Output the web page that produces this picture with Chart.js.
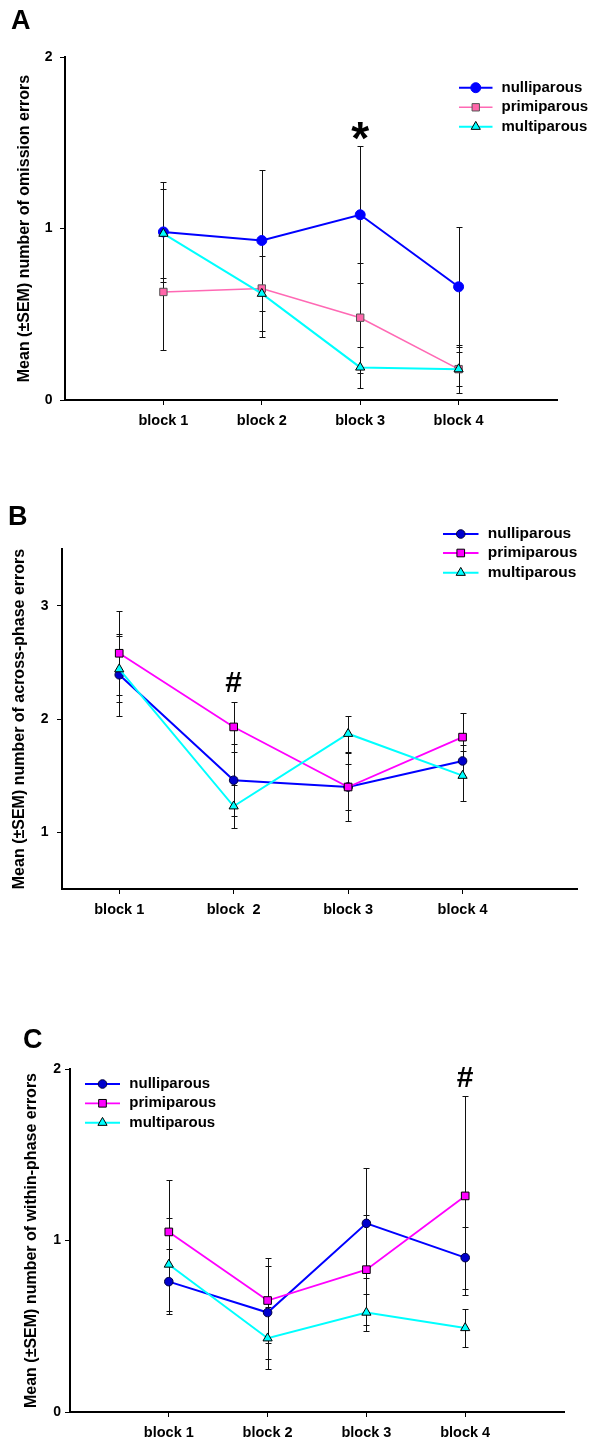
<!DOCTYPE html>
<html>
<head>
<meta charset="utf-8">
<script src="https://cdn.jsdelivr.net/npm/chart.js@4.4.1/dist/chart.umd.min.js"></script>
<style>
    body { margin: 0; background: #fff; width: 589px; height: 1445px; position: relative; overflow: hidden; }
    canvas { position: absolute; left: 0; }
</style>
</head>
<body>
<canvas id="chartA" width="589" height="450" style="top:0"></canvas>
<canvas id="chartB" width="589" height="440" style="top:490px"></canvas>
<canvas id="chartC" width="589" height="485" style="top:960px"></canvas>
<script>
// ─── Data ───
const blocks = ['block 1', 'block 2', 'block 3', 'block 4'];
const blocksB = ['block 1', 'block  2', 'block 3', 'block 4'];
const groups = ['nulliparous', 'primiparous', 'multiparous'];

// A: omission errors
const omNulli = [0.98, 0.93, 1.08, 0.66];
const omNulliSem = [0.29, 0.41, 0.40, 0.35];
const omPrimi = [0.63, 0.65, 0.48, 0.18];
const omPrimiSem = [0.34, 0.28, 0.32, 0.10];
const omMulti = [0.97, 0.62, 0.19, 0.18];
const omMultiSem = [0.26, 0.22, 0.12, 0.14];

// B: across-phase errors
const acNulli = [2.39, 1.46, 1.40, 1.63];
const acNulliSem = [0.36, 0.32, 0.20, 0.14];
const acPrimi = [2.58, 1.93, 1.40, 1.84];
const acPrimiSem = [0.37, 0.22, 0.30, 0.21];
const acMulti = [2.44, 1.23, 1.87, 1.50];
const acMultiSem = [0.29, 0.19, 0.16, 0.22];

// C: within-phase errors
const wiNulli = [0.76, 0.58, 1.10, 0.90];
const wiNulliSem = [0.19, 0.27, 0.32, 0.18];
const wiPrimi = [1.05, 0.65, 0.83, 1.26];
const wiPrimiSem = [0.30, 0.25, 0.32, 0.58];
const wiMulti = [0.86, 0.43, 0.58, 0.49];
const wiMultiSem = [0.27, 0.18, 0.11, 0.11];

const yTicksA = [0, 1, 2];
const yTicksB = [1, 2, 3];
const yTicksC = [0, 1, 2];

const FONT = "Arial, 'Liberation Sans', Helvetica, sans-serif";
Chart.defaults.font.family = FONT;
Chart.defaults.color = '#000';

function drawMarker(ctx, ds, x, y) {
    ctx.save();
    ctx.fillStyle = ds.pointBackgroundColor;
    ctx.strokeStyle = ds.pointBorderColor;
    ctx.lineWidth = ds.pointBorderWidth;
    Chart.helpers.drawPoint(ctx, {
        pointStyle: ds.pointStyle, radius: ds.pointRadius, rotation: 0, borderWidth: ds.pointBorderWidth
    }, x, y);
    ctx.restore();
}

// error bars, legend, panel letter and significance mark
const panelDecor = {
    id: 'panelDecor',
    beforeDatasetsDraw(chart) {
        const { ctx, scales: { x, y } } = chart;
        ctx.save();
        ctx.strokeStyle = '#111';
        ctx.lineWidth = 1;
        chart.data.datasets.forEach(ds => {
            ds.data.forEach((p, i) => {
                const s = ds.sem[i];
                const px = Math.round(x.getPixelForValue(p.x)) + 0.5;
                const yt = Math.round(y.getPixelForValue(p.y + s)) + 0.5;
                const yb = Math.round(y.getPixelForValue(p.y - s)) + 0.5;
                ctx.beginPath();
                ctx.moveTo(px, yt); ctx.lineTo(px, yb);
                ctx.moveTo(px - 3, yt); ctx.lineTo(px + 3, yt);
                ctx.moveTo(px - 3, yb); ctx.lineTo(px + 3, yb);
                ctx.stroke();
            });
        });
        ctx.restore();
    },
    afterDraw(chart, args, opts) {
        const { ctx, scales: { x, y } } = chart;
        ctx.save();
        ctx.fillStyle = '#000';
        ctx.textAlign = 'left';
        ctx.textBaseline = 'alphabetic';
        ctx.font = `bold 27px ${FONT}`;
        ctx.fillText(opts.letter, opts.letterX, opts.letterY);

        ctx.font = `bold ${opts.markSize}px ${FONT}`;
        const m = ctx.measureText(opts.mark);
        const mx = x.getPixelForValue(opts.markAt[0]);
        const my = y.getPixelForValue(opts.markAt[1]);
        ctx.fillText(opts.mark,
            mx - (m.actualBoundingBoxRight - m.actualBoundingBoxLeft) / 2,
            my + (m.actualBoundingBoxAscent - m.actualBoundingBoxDescent) / 2);

        const lg = opts.legend;
        ctx.font = `bold ${lg.size}px ${FONT}`;
        ctx.textBaseline = 'middle';
        chart.data.datasets.forEach((ds, i) => {
            const ly = lg.rows[i];
            ctx.strokeStyle = ds.borderColor;
            ctx.lineWidth = ds.borderWidth;
            ctx.beginPath();
            ctx.moveTo(lg.x0, ly); ctx.lineTo(lg.x1, ly);
            ctx.stroke();
            drawMarker(ctx, ds, (lg.x0 + lg.x1) / 2, ly);
            ctx.fillStyle = '#000';
            ctx.fillText(ds.label, lg.xt, ly);
        });
        ctx.restore();
    }
};

function series(label, vals, sem, style, order) {
    return Object.assign({
        label, sem, order,
        data: vals.map((v, i) => ({ x: i + 1, y: v })),
        tension: 0, fill: false, pointBorderWidth: 1
    }, style);
}

const styleA = [
    { borderColor: '#0000FF', borderWidth: 2, pointStyle: 'circle', pointRadius: 5, pointBackgroundColor: '#0000FF', pointBorderColor: '#0000FF' },
    { borderColor: '#FF69B4', borderWidth: 1.6, pointStyle: 'rect', pointRadius: 5.2, pointBackgroundColor: '#FF66AA', pointBorderColor: '#555' },
    { borderColor: '#00FFFF', borderWidth: 2, pointStyle: 'triangle', pointRadius: 5.3, pointBackgroundColor: '#00FFFF', pointBorderColor: '#000' }
];
const styleBC = [
    { borderColor: '#0000FF', borderWidth: 2, pointStyle: 'circle', pointRadius: 4.3, pointBackgroundColor: '#0000CC', pointBorderColor: '#000040' },
    { borderColor: '#FF00FF', borderWidth: 1.8, pointStyle: 'rect', pointRadius: 5.4, pointBackgroundColor: '#FF00FF', pointBorderColor: '#000' },
    { borderColor: '#00FFFF', borderWidth: 2, pointStyle: 'triangle', pointRadius: 5.3, pointBackgroundColor: '#00FFFF', pointBorderColor: '#000' }
];

function makeChart(id, c) {
    const axisGrid = { drawOnChartArea: false, drawTicks: true, tickLength: 5, color: '#000', lineWidth: 1 };
    const axisBorder = { color: '#000', width: 2 };
    return new Chart(document.getElementById(id), {
        type: 'line',
        data: { datasets: c.datasets },
        options: {
            responsive: false,
            animation: false,
            events: [],
            layout: { padding: { left: 0, right: c.padRight, top: c.padTop, bottom: 0 } },
            plugins: {
                legend: { display: false },
                tooltip: { enabled: false },
                panelDecor: c.decor
            },
            scales: {
                x: {
                    type: 'linear', min: c.xMin, max: 5,
                    afterFit: s => { s.height = c.xHeight; },
                    afterBuildTicks: s => { s.ticks = [1, 2, 3, 4].map(v => ({ value: v })); },
                    ticks: { callback: v => c.labels[v - 1], font: { size: 14.5, weight: 'bold' }, color: '#000', padding: 7.5, maxRotation: 0, autoSkip: false },
                    grid: axisGrid,
                    border: axisBorder
                },
                y: {
                    min: c.yMin, max: c.yMax,
                    afterFit: s => { s.width = c.yWidth; },
                    afterBuildTicks: s => { s.ticks = c.yTicks.map(v => ({ value: v })); },
                    ticks: { callback: v => String(v), font: { size: 14, weight: 'bold' }, color: '#000', padding: c.yPad },
                    grid: axisGrid,
                    border: axisBorder,
                    title: { display: true, text: c.title, color: '#000', font: { size: 16, weight: 'bold' }, padding: { top: c.titlePad, bottom: 0 } }
                }
            }
        },
        plugins: [panelDecor]
    });
}

makeChart('chartA', {
    datasets: [
        series(groups[0], omNulli, omNulliSem, styleA[0], 3),
        series(groups[1], omPrimi, omPrimiSem, styleA[1], 2),
        series(groups[2], omMulti, omMultiSem, styleA[2], 1)
    ],
    labels: blocks, yTicks: yTicksA, yMin: 0, yMax: 2, xMin: 0,
    padRight: 32, padTop: 57, xHeight: 50, yWidth: 65, yPad: 7.5, titlePad: 15,
    title: 'Mean (±SEM) number of omission errors',
    decor: {
        letter: 'A', letterX: 11, letterY: 29,
        mark: '*', markSize: 46, markAt: [3, 1.57],
        legend: { size: 15, x0: 459, x1: 492.5, xt: 501.5, rows: [87.7, 107.3, 126.7] }
    }
});

makeChart('chartB', {
    datasets: [
        series(groups[0], acNulli, acNulliSem, styleBC[0], 3),
        series(groups[1], acPrimi, acPrimiSem, styleBC[1], 2),
        series(groups[2], acMulti, acMultiSem, styleBC[2], 1)
    ],
    labels: blocksB, yTicks: yTicksB, yMin: 0.5, yMax: 3.5, xMin: 0.5,
    padRight: 12, padTop: 59, xHeight: 41, yWidth: 62, yPad: 8.5, titlePad: 10,
    title: 'Mean (±SEM) number of across-phase errors',
    decor: {
        letter: 'B', letterX: 8, letterY: 35,
        mark: '#', markSize: 30, markAt: [2, 2.326],
        legend: { size: 15.5, x0: 443, x1: 478.5, xt: 487.7, rows: [44, 63, 82.7] }
    }
});

makeChart('chartC', {
    datasets: [
        series(groups[0], wiNulli, wiNulliSem, styleBC[0], 3),
        series(groups[1], wiPrimi, wiPrimiSem, styleBC[1], 2),
        series(groups[2], wiMulti, wiMultiSem, styleBC[2], 1)
    ],
    labels: blocks, yTicks: yTicksC, yMin: 0, yMax: 2, xMin: 0,
    padRight: 25, padTop: 109, xHeight: 33, yWidth: 70, yPad: 4, titlePad: 22,
    title: 'Mean (±SEM) number of within-phase errors',
    decor: {
        letter: 'C', letterX: 23, letterY: 88,
        mark: '#', markSize: 30, markAt: [4, 1.953],
        legend: { size: 15, x0: 85, x1: 120, xt: 129.3, rows: [124, 143.3, 162.7] }
    }
});
</script>
</body>
</html>
